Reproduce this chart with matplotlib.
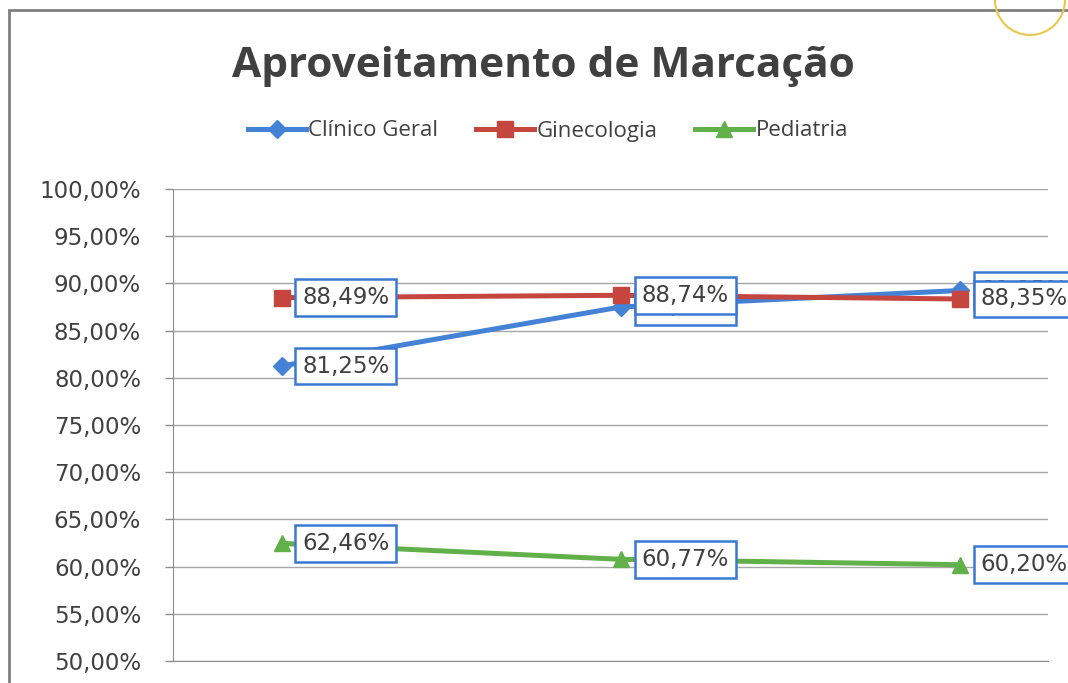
import matplotlib
matplotlib.use("Agg")
import matplotlib.pyplot as plt
from matplotlib.ticker import FuncFormatter
from matplotlib.patches import Rectangle, Arc

categories = ["1", "2", "3"]
series_names = ["Clínico Geral", "Ginecologia", "Pediatria"]
clinico = [81.25, 87.5, 89.25]
gineco = [88.49, 88.74, 88.35]
pediatria = [62.46, 60.77, 60.20]
yticks = [50, 55, 60, 65, 70, 75, 80, 85, 90, 95, 100]
title = "Aproveitamento de Marcação"

colors = ["#4482d6", "#c4463f", "#62b04a"]
markers = ["D", "s", "^"]
msizes = [9, 12, 11]

W, H = 1068, 683
fig = plt.figure(figsize=(W / 100, H / 100), dpi=100)
fig.patch.set_facecolor("white")

# chart border (scanned Excel chart area)
fig.add_artist(Rectangle((9 / W, -0.05), 1.2, 1 - 10 / H + 0.05, transform=fig.transFigure,
                         fill=False, edgecolor="#7f7f7f", lw=2.0))
fig.add_artist(Arc((1030 / W, 1 - 0 / H), 70 / W, 70 / H, transform=fig.transFigure,
                   theta1=180, theta2=360, color="#e8c84a", lw=1.5))

ax = fig.add_axes([173 / W, 1 - 661 / H, (1048 - 173) / W, (661 - 189) / H])
x = list(range(len(categories)))
ax.set_xlim(-0.32, 2.26)
ax.set_ylim(yticks[0], yticks[-1])
ax.set_yticks(yticks)
ax.yaxis.set_major_formatter(FuncFormatter(lambda v, p: f"{v:.2f}%".replace(".", ",")))
ax.set_xticks(x)
ax.set_xticklabels([])
ax.tick_params(axis="x", length=0)
ax.tick_params(axis="y", length=6, width=1.0, color="#8c8c8c", labelsize=16.5,
               labelcolor="#404040", pad=17)
for lbl in ax.get_yticklabels():
    lbl.set_family("DejaVu Sans")
ax.grid(axis="y", color="#a6a6a6", lw=1.0)
ax.set_axisbelow(True)
for s in ["top", "right"]:
    ax.spines[s].set_visible(False)
ax.spines["left"].set_color("#8c8c8c")
ax.spines["bottom"].set_color("#8c8c8c")

all_series = [clinico, gineco, pediatria]
for vals, name, c, m, ms in zip(all_series, series_names, colors, markers, msizes):
    ax.plot(x, vals, color=c, lw=3.6, marker=m, markersize=ms, markeredgecolor=c,
            label=name, zorder=3)

for k, (vals, c) in enumerate(zip(all_series, colors)):
    for xi, v in zip(x, vals):
        ax.annotate(f"{v:.2f}%".replace(".", ","), (xi, v), xytext=(15, 0),
                    textcoords="offset points", ha="left", va="center",
                    fontsize=16.5, color="#404040", family="DejaVu Sans",
                    bbox=dict(boxstyle="square,pad=0.3", fc="white", ec="#3a78d4", lw=1.8),
                    zorder=5 + k, annotation_clip=False)

fig.text(543 / W, 1 - 77 / H, title, ha="center", va="baseline", fontsize=30.5,
         fontweight="bold", color="#404040", family="Open Sans")

handles, labels = ax.get_legend_handles_labels()
leg = fig.legend(handles, labels, loc="center", bbox_to_anchor=(548 / W, 1 - 131 / H),
                 ncol=3, frameon=False, handlelength=2.6, columnspacing=1.7,
                 handletextpad=0.12, prop={"family": "Open Sans", "size": 16})
for t in leg.get_texts():
    t.set_color("#404040")

fig.savefig("out.png", dpi=100)
